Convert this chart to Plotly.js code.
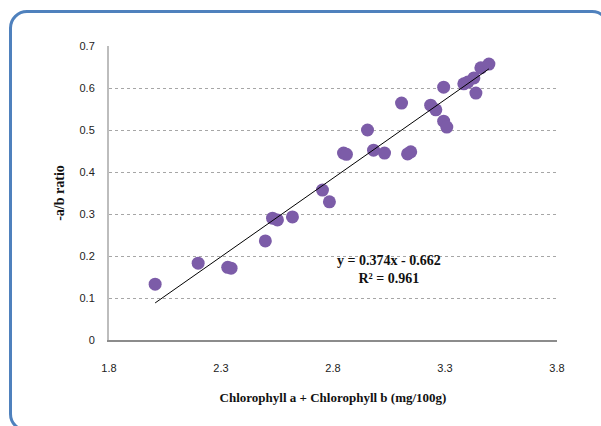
<!DOCTYPE html>
<html>
<head>
<meta charset="utf-8">
<script src="https://cdn.plot.ly/plotly-3.0.1.min.js"></script>
<style>
  html, body { margin: 0; padding: 0; width: 601px; height: 426px; overflow: hidden; background: #fff; }
  #chart { position: absolute; left: 0; top: 0; width: 601px; height: 426px; }
  #frame { position: absolute; left: 9px; top: 10px; width: 595px; height: 416px;
           border: 3px solid #4f81bd; border-radius: 18px; pointer-events: none; }
</style>
</head>
<body>
<div id="chart"></div>
<div id="frame"></div>
<script>
// Data
const chlTotal = [2.006, 2.198, 2.330, 2.345, 2.498, 2.530, 2.552, 2.619, 2.753, 2.784,
                  2.847, 2.860, 2.954, 2.981, 3.030, 3.106, 3.133, 3.147, 3.236, 3.259,
                  3.294, 3.294, 3.308, 3.384, 3.402, 3.429, 3.438, 3.460, 3.496];
const abRatio  = [0.133, 0.183, 0.173, 0.171, 0.236, 0.290, 0.286, 0.293, 0.357, 0.329,
                  0.445, 0.442, 0.500, 0.452, 0.445, 0.564, 0.443, 0.448, 0.559, 0.548,
                  0.602, 0.521, 0.507, 0.610, 0.614, 0.624, 0.588, 0.648, 0.657];
const trendSlope = [0.374];
const trendIntercept = [-0.662];
const equationLines = ["y = 0.374x - 0.662", "R\u00b2 = 0.961"];
const xTicks = [1.8, 2.3, 2.8, 3.3, 3.8];
const yTicks = [0, 0.1, 0.2, 0.3, 0.4, 0.5, 0.6, 0.7];

const xMin = Math.min(...chlTotal), xMax = Math.max(...chlTotal);
const trendX = [xMin, xMax];
const trendY = trendX.map(v => trendSlope[0] * v + trendIntercept[0]);

const serif = "'Liberation Serif', 'Times New Roman', serif";
const sans = "'Liberation Sans', Arial, sans-serif";

const traces = [
  {
    x: chlTotal, y: abRatio, type: 'scatter', mode: 'markers',
    marker: { size: 13, color: '#7c5ca8', line: { width: 0 } },
    hoverinfo: 'x+y', showlegend: false
  },
  {
    x: trendX, y: trendY, type: 'scatter', mode: 'lines',
    line: { color: '#000', width: 1 }, hoverinfo: 'skip', showlegend: false
  }
];

const layout = {
  width: 601, height: 426,
  margin: { l: 109, r: 44, t: 46, b: 86 },
  paper_bgcolor: '#fff', plot_bgcolor: '#fff',
  showlegend: false,
  xaxis: {
    range: [1.8, 3.8], tickvals: xTicks, ticktext: xTicks.map(v => v.toFixed(1)),
    showgrid: false, zeroline: false, showline: true, linecolor: '#8c8c8c', linewidth: 1.5,
    ticks: '', ticklabelstandoff: 17,
    tickfont: { family: sans, size: 11, color: '#222' },
    title: { text: 'Chlorophyll a + Chlorophyll b (mg/100g)', font: { family: serif, size: 13, color: '#111', weight: 'bold' }, standoff: 20 },
    automargin: false
  },
  yaxis: {
    range: [0, 0.7], tickvals: yTicks, ticktext: yTicks.map(v => v === 0 ? '0' : v.toFixed(1)),
    showgrid: true, gridcolor: '#a6a6a6', griddash: 'dot', gridwidth: 1,
    zeroline: false, showline: true, linecolor: '#bdbdbd', linewidth: 2,
    ticks: '', ticklabelstandoff: 10,
    tickfont: { family: sans, size: 11, color: '#222' },
    title: { text: '-a/b ratio', font: { family: serif, size: 14, color: '#111', weight: 'bold' }, standoff: 12 },
    automargin: false
  },
  annotations: [
    {
      xref: 'x', yref: 'y', x: 3.048, y: 0.168, showarrow: false,
      text: '<b>' + equationLines.join('<br>') + '</b>', align: 'center',
      font: { family: serif, size: 14, color: '#111' }
    }
  ]
};

Plotly.newPlot('chart', traces, layout, { displayModeBar: false, staticPlot: true });
</script>
</body>
</html>
